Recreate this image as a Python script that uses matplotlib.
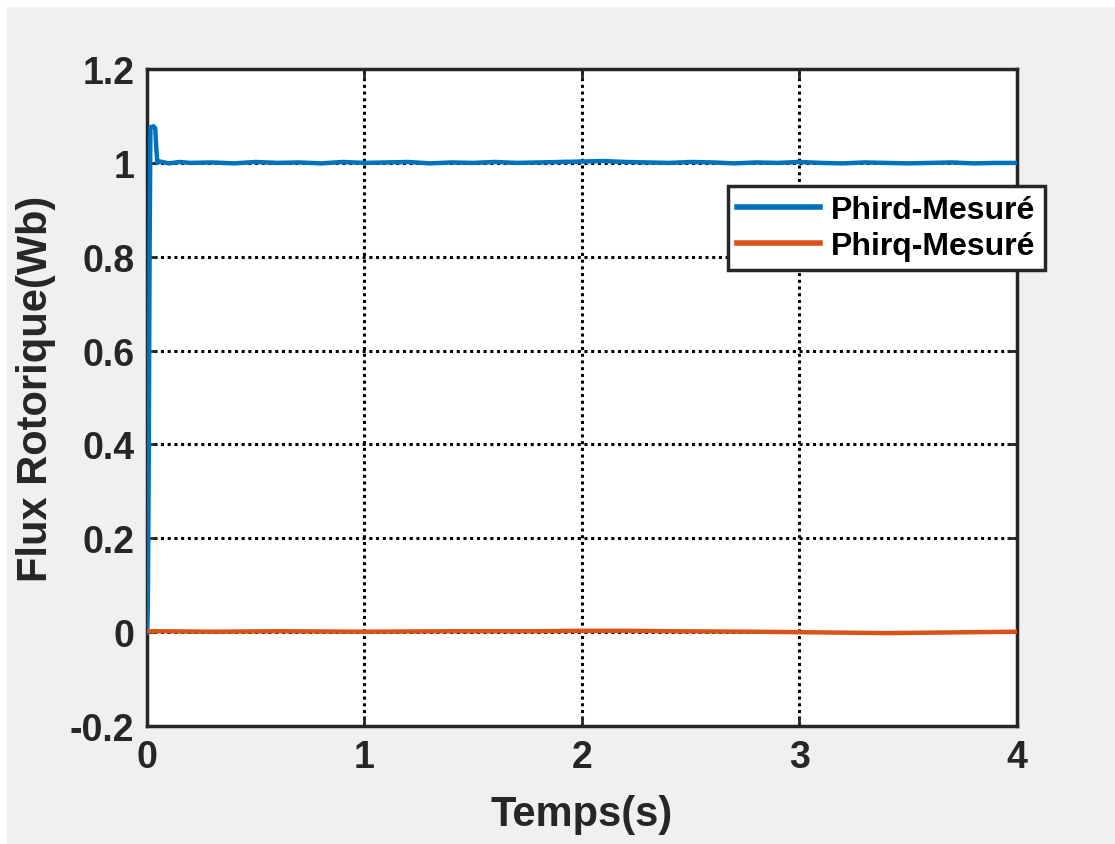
import matplotlib.pyplot as plt
from matplotlib.patches import Rectangle

plt.rcParams['font.family'] = ['Liberation Sans', 'DejaVu Sans']
plt.rcParams['font.weight'] = 'bold'

# Phird measured (blue): fast rise, small overshoot, then ~1 Wb
t_d = [0, 0.004, 0.008, 0.012, 0.016, 0.03, 0.038, 0.043, 0.048, 0.06, 0.1, 0.15, 0.2,
       0.3, 0.4, 0.5, 0.6, 0.7, 0.8, 0.9, 1.0, 1.1, 1.2, 1.3, 1.4, 1.5, 1.6, 1.7, 1.8,
       1.9, 2.0, 2.1, 2.2, 2.3, 2.4, 2.5, 2.6, 2.7, 2.8, 2.9, 3.0, 3.1, 3.2, 3.3, 3.4,
       3.5, 3.6, 3.7, 3.8, 3.9, 4.0]
phird = [0, 0.05, 0.35, 0.8, 1.076, 1.078, 1.074, 1.03, 1.0, 1.003, 0.999, 1.002, 1.0,
         1.001, 0.999, 1.002, 1.0, 1.001, 0.999, 1.002, 1.0, 1.001, 1.002, 0.999, 1.001,
         1.0, 1.002, 1.0, 1.001, 1.002, 1.003, 1.004, 1.002, 1.001, 1.0, 1.002, 1.001,
         0.999, 1.001, 1.0, 1.002, 1.0, 0.999, 1.001, 1.0, 0.999, 1.0, 1.001, 0.999,
         1.0, 1.0]

# Phirq measured (orange): ~0 Wb
t_q = [0, 0.05, 0.3, 0.6, 1.0, 1.4, 1.8, 2.0, 2.2, 2.4, 2.8, 3.2, 3.4, 3.6, 3.8, 4.0]
phirq = [0.002, 0.002, 0.001, 0.002, 0.001, 0.002, 0.002, 0.003, 0.003, 0.002, 0.001,
         -0.001, -0.002, -0.001, 0.0, 0.001]

yticks = [-0.2, 0, 0.2, 0.4, 0.6, 0.8, 1, 1.2]
ytick_labels = ['-0.2', '0', '0.2', '0.4', '0.6', '0.8', '1', '1.2']
xticks = [0, 1, 2, 3, 4]

fig = plt.figure(figsize=(11.15, 8.45), dpi=100, facecolor='#f0f0f0')
# thin white border at top and left of the screenshot
fig.patches.append(Rectangle((0, 1 - 8 / 845), 1, 8 / 845, transform=fig.transFigure,
                             facecolor='white', edgecolor='none'))
fig.patches.append(Rectangle((0, 0), 7 / 1115, 1, transform=fig.transFigure,
                             facecolor='white', edgecolor='none'))

ax = fig.add_axes([0.1318, 0.1396, 0.7803, 0.7775])

ax.plot(t_d, phird, color='#0072BD', lw=3.2, label='Phird-Mesuré', zorder=3)
ax.plot(t_q, phirq, color='#D95319', lw=3.2, label='Phirq-Mesuré', zorder=3)

ax.set_xlim(0, 4)
ax.set_ylim(-0.2, 1.2)
ax.set_xticks(xticks)
ax.set_xticklabels([str(x) for x in xticks])
ax.set_yticks(yticks)
ax.set_yticklabels(ytick_labels)

ax.grid(True, color='black', linestyle=(0, (1, 1.2)), lw=2.2)
ax.tick_params(direction='in', length=7, width=2, colors='#262626',
               labelsize=27, top=True, right=True, pad=9)
for lab in ax.get_xticklabels() + ax.get_yticklabels():
    lab.set_fontweight('bold')
    lab.set_color('#262626')
for s in ax.spines.values():
    s.set_linewidth(2.5)
    s.set_color('#262626')

ax.set_xlabel('Temps(s)', fontsize=30, fontweight='bold', color='#262626', labelpad=14)
ax.set_ylabel('Flux Rotorique(Wb)', fontsize=30, fontweight='bold', color='#262626')
ax.yaxis.set_label_coords(-0.104, 0.515)

leg = ax.legend(loc='upper left', bbox_to_anchor=(728 / 1115, 1 - 187 / 845),
                bbox_transform=fig.transFigure, fontsize=23, frameon=True,
                fancybox=False, framealpha=1, borderpad=0.28, handlelength=2.6,
                handletextpad=0.35, labelspacing=0.2, borderaxespad=0)
leg.get_frame().set_edgecolor('#262626')
leg.get_frame().set_linewidth(2.5)
for txt in leg.get_texts():
    txt.set_fontweight('bold')
for ln in leg.get_lines():
    ln.set_linewidth(4)

fig.savefig('out.png', dpi=100, facecolor=fig.get_facecolor())
